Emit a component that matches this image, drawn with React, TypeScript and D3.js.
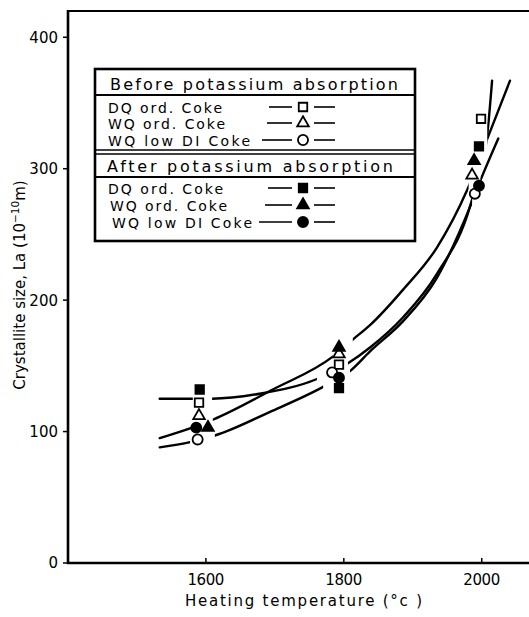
import React from "react";
import * as d3 from "d3";

const width = 529;
const height = 617;
const font = "'DejaVu Sans', sans-serif";

// axis ticks
const xTicks = [1600, 1800, 2000];
const yTicks = [0, 100, 200, 300, 400];

// measured points [temperature, La]
const dqBefore = [[1590, 122], [1793, 151], [1999, 338]];
const wqBefore = [[1590, 112], [1793, 159], [1986, 295]];
const wqLowBefore = [[1588, 94], [1783, 145], [1990, 281]];
const dqAfter = [[1591, 132], [1793, 133], [1996, 317]];
const wqAfter = [[1603, 103], [1793, 164], [1989, 306]];
const wqLowAfter = [[1586, 103], [1793, 141], [1996, 287]];

// hand drawn fitted curves [temperature, La]
const curveUpper = [[1533, 125], [1609, 125], [1680, 129], [1761, 140], [1806, 152], [1838, 164], [1886, 187], [1935, 220], [1984, 273], [2008, 326], [2015, 367]];
const curveMiddle = [[1533, 95], [1580, 103], [1610, 109], [1697, 132], [1784, 157], [1813, 170], [1838, 181], [1886, 208], [1935, 240], [1979, 284], [2009, 324], [2041, 367]];
const curveLower = [[1533, 88], [1577, 92], [1613, 97], [1693, 115], [1770, 134], [1809, 146], [1838, 161], [1886, 184], [1935, 217], [1983, 271], [1998, 291], [2024, 323]];

// breaks in each curve where it passes the data points
const gapsUpper = [[1581, 1609], [1761, 1806], [1986, 2008]];
const gapsMiddle = [[1580, 1610], [1784, 1813], [1981, 2009]];
const gapsLower = [[1577, 1613], [1770, 1809], [1986, 1998]];

const series = [
  { name: "DQ ord. Coke", shape: "square", filled: false, data: dqBefore },
  { name: "WQ ord. Coke", shape: "triangle", filled: false, data: wqBefore },
  { name: "WQ low DI Coke", shape: "circle", filled: false, data: wqLowBefore },
  { name: "DQ ord. Coke", shape: "square", filled: true, data: dqAfter },
  { name: "WQ ord. Coke", shape: "triangle", filled: true, data: wqAfter },
  { name: "WQ low DI Coke", shape: "circle", filled: true, data: wqLowAfter },
];

const curves = [
  { pts: curveUpper, gaps: gapsUpper },
  { pts: curveMiddle, gaps: gapsMiddle },
  { pts: curveLower, gaps: gapsLower },
];

const symbolType = (s: string) =>
  s === "square" ? d3.symbolSquare : s === "triangle" ? d3.symbolTriangle : d3.symbolCircle;
const symbolSize = (s: string) => (s === "square" ? 72 : s === "triangle" ? 58 : 80);

const Marker = ({ shape, filled, x, y }: any) => (
  <path
    transform={`translate(${x},${y})`}
    d={d3.symbol().type(symbolType(shape)).size(symbolSize(shape))() as string}
    fill={filled ? "#000" : "#fff"}
    stroke="#000"
    strokeWidth={1.8}
  />
);

export default function App() {
  const x = d3.scaleLinear().domain([1400, 2070]).range([68, 530]);
  const y = d3.scaleLinear().domain([0, 420]).range([563, 11]);

  const line = d3
    .line<number[]>()
    .x((d) => x(d[0]))
    .y((d) => y(d[1]))
    .curve(d3.curveMonotoneX);

  // visible x-intervals for each curve
  const visible = (pts: number[][], gaps: number[][]) => {
    const out: number[][] = [];
    let start = pts[0][0] - 5;
    gaps.forEach(([a, b]) => {
      out.push([start, a]);
      start = b;
    });
    out.push([start, pts[pts.length - 1][0] + 5]);
    return out;
  };

  // legend rows
  const legendRows = [
    { s: series[0], base: 113, tx: 108, tl: 114, l0: 269 },
    { s: series[1], base: 129, tx: 108, tl: 117, l0: 267 },
    { s: series[2], base: 146, tx: 108, tl: 142, l0: 262 },
    { s: series[3], base: 194, tx: 108, tl: 115, l0: 268 },
    { s: series[4], base: 211, tx: 110, tl: 117, l0: 265 },
    { s: series[5], base: 228, tx: 112, tl: 140, l0: 259 },
  ];

  return (
    <svg
      width={width}
      height={height}
      style={{ position: "absolute", left: 0, top: 0, background: "#fff" }}
      fontFamily={font}
    >
      <defs>
        {curves.map((c, i) => (
          <clipPath id={`clip${i}`} key={i}>
            {visible(c.pts, c.gaps).map(([a, b], j) => (
              <rect key={j} x={x(a)} y={0} width={x(b) - x(a)} height={height} />
            ))}
          </clipPath>
        ))}
      </defs>

      {/* frame */}
      <line x1={68} x2={68} y1={10} y2={564} stroke="#000" strokeWidth={2.6} />
      <line x1={67} x2={529} y1={563} y2={563} stroke="#000" strokeWidth={2.6} />
      <line x1={67} x2={529} y1={11} y2={11} stroke="#000" strokeWidth={2} />

      {/* y ticks */}
      {yTicks.map((t) => (
        <g key={t}>
          <line x1={63} x2={68} y1={y(t)} y2={y(t)} stroke="#000" strokeWidth={1.5} />
          <text x={58} y={y(t)} dy="0.36em" textAnchor="end" fontSize={15}>
            {t}
          </text>
        </g>
      ))}

      {/* x ticks */}
      {xTicks.map((t) => (
        <g key={t}>
          <line x1={x(t)} x2={x(t)} y1={563} y2={558} stroke="#000" strokeWidth={1.5} />
          <text x={x(t)} y={585} textAnchor="middle" fontSize={15} textLength={37} lengthAdjust="spacing">
            {t}
          </text>
        </g>
      ))}

      <text x={185} y={606} fontSize={15} textLength={237} lengthAdjust="spacing">
        Heating temperature (°c )
      </text>

      <text transform="translate(25,285) rotate(-90)" textAnchor="middle" fontSize={15}>
        Crystallite size, La (10
        <tspan dy={-6} fontSize={10.5}>−10</tspan>
        <tspan dy={6}>m)</tspan>
      </text>

      {/* curves */}
      {curves.map((c, i) => (
        <path
          key={i}
          d={line(c.pts) as string}
          fill="none"
          stroke="#000"
          strokeWidth={2.4}
          strokeLinecap="round"
          clipPath={`url(#clip${i})`}
        />
      ))}

      {/* points */}
      {series.map((s, i) =>
        s.data.map((d, j) => (
          <Marker key={`${i}-${j}`} shape={s.shape} filled={s.filled} x={x(d[0])} y={y(d[1])} />
        ))
      )}

      {/* legend */}
      <g>
        <rect x={95} y={69} width={320} height={172} fill="#fff" stroke="#000" strokeWidth={2.6} />
        <line x1={95} x2={415} y1={95} y2={95} stroke="#000" strokeWidth={2.2} />
        <line x1={95} x2={415} y1={150} y2={150} stroke="#000" strokeWidth={1.6} />
        <line x1={95} x2={415} y1={154} y2={154} stroke="#000" strokeWidth={1.6} />
        <line x1={95} x2={415} y1={177} y2={177} stroke="#000" strokeWidth={2.2} />
        <text x={110} y={90} fontSize={16} textLength={288} lengthAdjust="spacing">
          Before potassium absorption
        </text>
        <text x={107} y={172} fontSize={16} textLength={286} lengthAdjust="spacing">
          After potassium absorption
        </text>
        {legendRows.map((r, i) => (
          <g key={i}>
            <text x={r.tx} y={r.base} fontSize={14} textLength={r.tl} lengthAdjust="spacing">
              {r.s.name}
            </text>
            <line x1={r.l0} x2={292} y1={r.base - 6} y2={r.base - 6} stroke="#000" strokeWidth={1.6} />
            <line x1={314} x2={335} y1={r.base - 6} y2={r.base - 6} stroke="#000" strokeWidth={1.6} />
            <Marker shape={r.s.shape} filled={r.s.filled} x={303} y={r.base - 6} />
          </g>
        ))}
      </g>
    </svg>
  );
}
